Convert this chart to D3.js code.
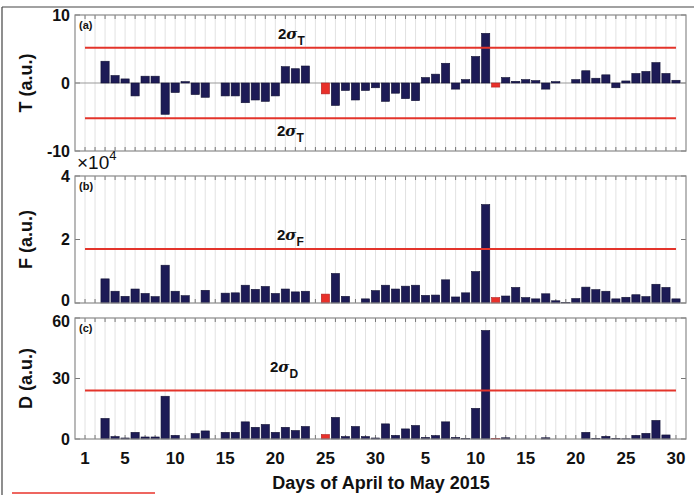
<!DOCTYPE html>
<html>
<head>
<meta charset="utf-8">
<script src="https://cdn.jsdelivr.net/npm/d3@7"></script>
<style>
  body { margin: 0; background: #fff; }
  svg { display: block; font-family: "Liberation Sans", Arial, sans-serif; }
  .tick-lbl { font-size: 17px; font-weight: bold; fill: #111; }
  .ax-title { font-size: 18px; font-weight: bold; fill: #111; }
  .sig { font-size: 15px; font-weight: bold; fill: #111; }
</style>
</head>
<body>
<div id="chart"></div>
<script>
// days: 1..30 = April, 31..60 = May
const days = d3.range(1, 61)

const tickDays = [1, 5, 10, 15, 20, 25, 30, 35, 40, 45, 50, 55, 60]
const tickLabels = ['1', '5', '10', '15', '20', '25', '30', '5', '10', '15', '20', '25', '30']

// red bars (Apr 25, May 12)
const redDays = [25, 42]

const T = [0, 0, 3.2, 1.1, 0.6, -1.9, 1.0, 1.0, -4.6, -1.4,
  0.2, -1.7, -2.1, 0, -1.9, -1.9, -2.9, -2.5, -2.7, -1.9,
  2.4, 2.1, 2.5, 0, -1.6, -3.3, -1.1, -2.5, -1.1, -0.7,
  -2.7, -1.5, -2.3, -2.6, 0.8, 1.3, 2.9, -0.9, 0.5, 3.9,
  7.3, -0.6, 0.8, 0.25, 0.5, 0.35, -0.9, 0.2, 0, 0.5,
  1.8, 0.7, 1.2, -0.7, 0.3, 1.4, 1.7, 3.0, 1.4, 0.4]

const F = [0, 0, 7600, 3700, 2100, 4400, 3000, 2000, 11900, 3700,
  2300, 0, 4000, 0, 3100, 3200, 5600, 4300, 5200, 3000,
  4400, 3500, 3700, 0, 2800, 9300, 2100, 0, 1300, 3900,
  5600, 4400, 5300, 5600, 2400, 2500, 7300, 1900, 3200, 9900,
  31000, 1700, 2200, 4900, 1700, 1300, 2900, 700, 100, 1400,
  5000, 4200, 3700, 1300, 1800, 2600, 2000, 5900, 4900, 1300]

const D = [0, 0, 10.2, 1.2, 0.5, 3.3, 1.0, 1.0, 21.2, 1.8,
  0, 2.7, 4.0, 0, 3.3, 3.3, 8.5, 5.8, 7.2, 3.3,
  5.8, 4.2, 6.2, 0, 2.2, 10.7, 1.2, 6.2, 1.2, 0.5,
  7.5, 1.8, 5.0, 6.7, 0.8, 1.7, 8.5, 0.8, 0.2, 15.2,
  53.8, 0.3, 0.6, 0, 0, 0, 0.6, 0, 0, 0,
  3.3, 0.3, 1.3, 0.3, 0.1, 1.8, 2.8, 9.2, 2.0, 0]

// 2 sigma thresholds
const sigT = 5.2
const sigF = 17000
const sigD = 24

const width = 694, height = 495

const svg = d3.select('#chart').append('svg')
.attr('width', width)
.attr('height', height)

// figure frame (from the paper page)
svg.append('line').attr('x1', 2).attr('x2', width).attr('y1', 7).attr('y2', 7)
.attr('stroke', '#444').attr('stroke-width', 1.2)
svg.append('line').attr('x1', 2).attr('x2', 2).attr('y1', 7).attr('y2', height)
.attr('stroke', '#444').attr('stroke-width', 1.2)
svg.append('line').attr('x1', 12).attr('x2', 155).attr('y1', 493).attr('y2', 493)
.attr('stroke', '#e8332b').attr('stroke-width', 1.5)

const x = d3.scaleLinear().domain([0, 61]).range([75, 686])
const barW = (x(1) - x(0)) * 0.82

const panels = [
  {key: 'a', vals: T, domain: [-10, 10], top: 15, bottom: 151, ticks: [-10, 0, 10], fmt: d => d, title: 'T (a.u.)', sig: sigT, sub: 'T', twoSided: true},
  {key: 'b', vals: F, domain: [0, 40000], top: 176, bottom: 303, ticks: [0, 20000, 40000], fmt: d => d / 1e4, title: 'F (a.u.)', sig: sigF, sub: 'F'},
  {key: 'c', vals: D, domain: [0, 60], top: 318, bottom: 439, ticks: [0, 30, 60], fmt: d => d, title: 'D (a.u.)', sig: sigD, sub: 'D'}
]

const sigLabel = (g, lx, ly, sub) => {
  const t = g.append('text').attr('class', 'sig').attr('x', lx).attr('y', ly)
  t.append('tspan').text('2')
  t.append('tspan').attr('font-style', 'italic').attr('font-family', '"DejaVu Serif", serif').text('σ')
  t.append('tspan').attr('dy', 6).attr('font-size', 12).text(sub)
}

panels.forEach((p, pi) => {
  const y = d3.scaleLinear().domain(p.domain).range([p.bottom, p.top])
  const g = svg.append('g')

  // vertical grid at every day
  g.selectAll('.grid').data(days).enter().append('line')
  .attr('x1', d => x(d)).attr('x2', d => x(d))
  .attr('y1', p.top).attr('y2', p.bottom)
  .attr('stroke', '#e2e2e2').attr('stroke-width', 1)

  // inward ticks top/bottom
  g.selectAll('.tb').data(days).enter().append('line')
  .attr('x1', d => x(d)).attr('x2', d => x(d))
  .attr('y1', p.bottom).attr('y2', p.bottom - 4)
  .attr('stroke', '#777')
  g.selectAll('.tt').data(days).enter().append('line')
  .attr('x1', d => x(d)).attr('x2', d => x(d))
  .attr('y1', p.top).attr('y2', p.top + 4)
  .attr('stroke', '#777')

  // y ticks both sides
  g.selectAll('.yl').data(p.ticks).enter().append('line')
  .attr('x1', x(0)).attr('x2', x(0) + 5)
  .attr('y1', d => y(d)).attr('y2', d => y(d))
  .attr('stroke', '#777')
  g.selectAll('.yr').data(p.ticks).enter().append('line')
  .attr('x1', x(61)).attr('x2', x(61) - 5)
  .attr('y1', d => y(d)).attr('y2', d => y(d))
  .attr('stroke', '#777')

  if (p.twoSided) {
    g.append('line').attr('x1', x(0)).attr('x2', x(61))
    .attr('y1', y(0)).attr('y2', y(0))
    .attr('stroke', '#999').attr('stroke-width', 1)
  }

  // bars
  g.selectAll('.bar').data(p.vals.map((v, i) => ({day: days[i], v})).filter(d => d.v !== 0))
  .enter().append('rect')
  .attr('x', d => x(d.day) - barW / 2)
  .attr('width', barW)
  .attr('y', d => y(Math.max(0, d.v)))
  .attr('height', d => Math.abs(y(d.v) - y(0)))
  .attr('fill', d => redDays.includes(d.day) ? '#e8302a' : '#1d1b56')
  .attr('stroke', d => redDays.includes(d.day) ? '#b02020' : '#111133')
  .attr('stroke-width', 0.6)

  // 2 sigma lines
  const sigs = p.twoSided ? [p.sig, -p.sig] : [p.sig]
  g.selectAll('.sigl').data(sigs).enter().append('line')
  .attr('x1', x(1)).attr('x2', x(60))
  .attr('y1', d => y(d)).attr('y2', d => y(d))
  .attr('stroke', '#e3342b').attr('stroke-width', 2)

  // panel frame
  g.append('rect')
  .attr('x', x(0)).attr('y', p.top)
  .attr('width', x(61) - x(0)).attr('height', p.bottom - p.top)
  .attr('fill', 'none').attr('stroke', '#8a8a8a').attr('stroke-width', 1.2)

  // y tick labels (nudge the touching 0 / 60 pair apart a little)
  const nudge = d => {
    if (pi === 1 && d === 0) return -3
    if (pi === 2 && d === 60) return 3
    return 0
  }
  g.selectAll('.ylab').data(p.ticks).enter().append('text')
  .attr('class', 'tick-lbl')
  .style('font-size', '16px')
  .attr('x', 70).attr('y', d => y(d) + nudge(d)).attr('dy', '0.36em')
  .attr('text-anchor', 'end')
  .text(p.fmt)

  // y title
  g.append('text').attr('class', 'ax-title')
  .attr('transform', `translate(32,${(p.top + p.bottom) / 2}) rotate(-90)`)
  .attr('text-anchor', 'middle')
  .text(p.title)

  // panel letter
  g.append('text').attr('x', 79).attr('y', p.top + 14)
  .attr('font-size', 11).attr('font-weight', 'bold').attr('fill', '#111')
  .text(`(${p.key})`)

  p.y = y
  p.g = g
})

// sigma labels
sigLabel(panels[0].g, 278, 39, 'T')
sigLabel(panels[0].g, 277, 136, 'T')
sigLabel(panels[1].g, 277, 240, 'F')
sigLabel(panels[2].g, 270, 372, 'D')

// x10^4 multiplier
const mult = svg.append('text').attr('x', 77).attr('y', 169)
.attr('font-size', 19).attr('fill', '#111')
mult.append('tspan').text('×10')
mult.append('tspan').attr('dy', -9).attr('font-size', 13).text('4')

// x tick labels
svg.selectAll('.xlab').data(tickDays).enter().append('text')
.attr('class', 'tick-lbl')
.attr('x', d => x(d)).attr('y', 464)
.attr('text-anchor', 'middle')
.text((d, i) => tickLabels[i])

svg.append('text').attr('class', 'ax-title')
.attr('x', 381).attr('y', 489)
.attr('text-anchor', 'middle')
.attr('font-size', 17)
.text('Days of April to May 2015')
</script>
</body>
</html>
